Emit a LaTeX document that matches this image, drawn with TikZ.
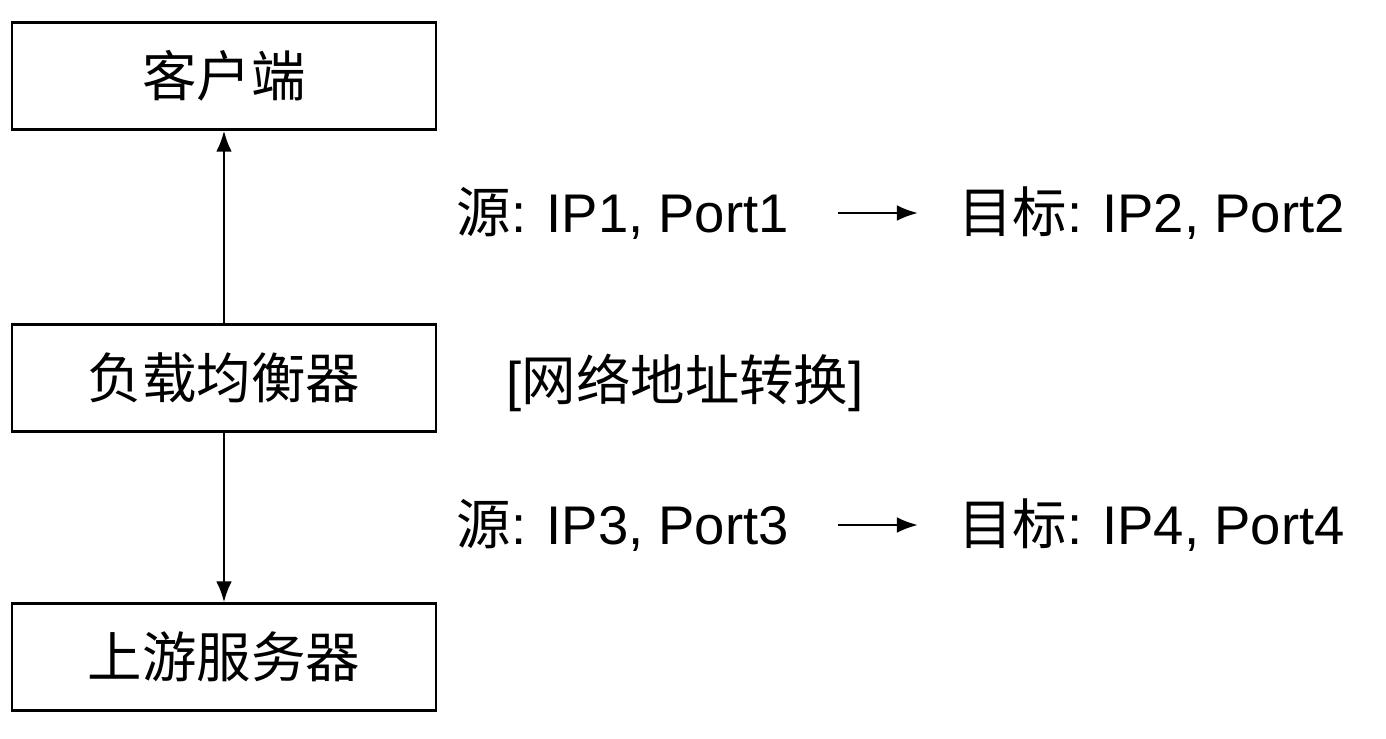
\documentclass[tikz,border=0pt]{standalone}
\usepackage{fontspec}
\setmainfont{Liberation Sans}
\newfontfamily\cjk{Noto Sans CJK SC}
\usepackage{tikz}
\usetikzlibrary{arrows.meta}

\begin{document}
\begin{tikzpicture}[x=0.02cm,y=-0.02cm,
  box/.style={draw,line width=1.3pt,minimum width=424*0.02cm,minimum height=107*0.02cm,font=\fontsize{31}{34}\selectfont\cjk},
  lbl/.style={font=\fontsize{31}{34}\selectfont},
  link/.style={line width=1.5pt,-{Latex[length=12pt,width=9pt]}}]
  \useasboundingbox (0,0) rectangle (1386,738);
  \node[box] (client) at (224,76) {客户端};
  \node[box] (lb) at (224,378) {负载均衡器};
  \node[box] (up) at (224,657) {上游服务器};
  \draw[link] (lb) -- (client);
  \draw[link] (lb) -- (up);
  \node[lbl,anchor=east] (src1) at (795,213) {{\cjk 源}: IP1, Port1};
  \node[lbl,anchor=west] (dst1) at (952,213) {{\cjk 目标}: IP2, Port2};
  \draw[link] (838,213) -- (918,213);
  \node[lbl] (nat) at (685,383) {[{\cjk 网络地址转换}]};
  \node[lbl,anchor=east] (src2) at (795,525) {{\cjk 源}: IP3, Port3};
  \node[lbl,anchor=west] (dst2) at (952,525) {{\cjk 目标}: IP4, Port4};
  \draw[link] (838,525) -- (918,525);
\end{tikzpicture}
\end{document}
